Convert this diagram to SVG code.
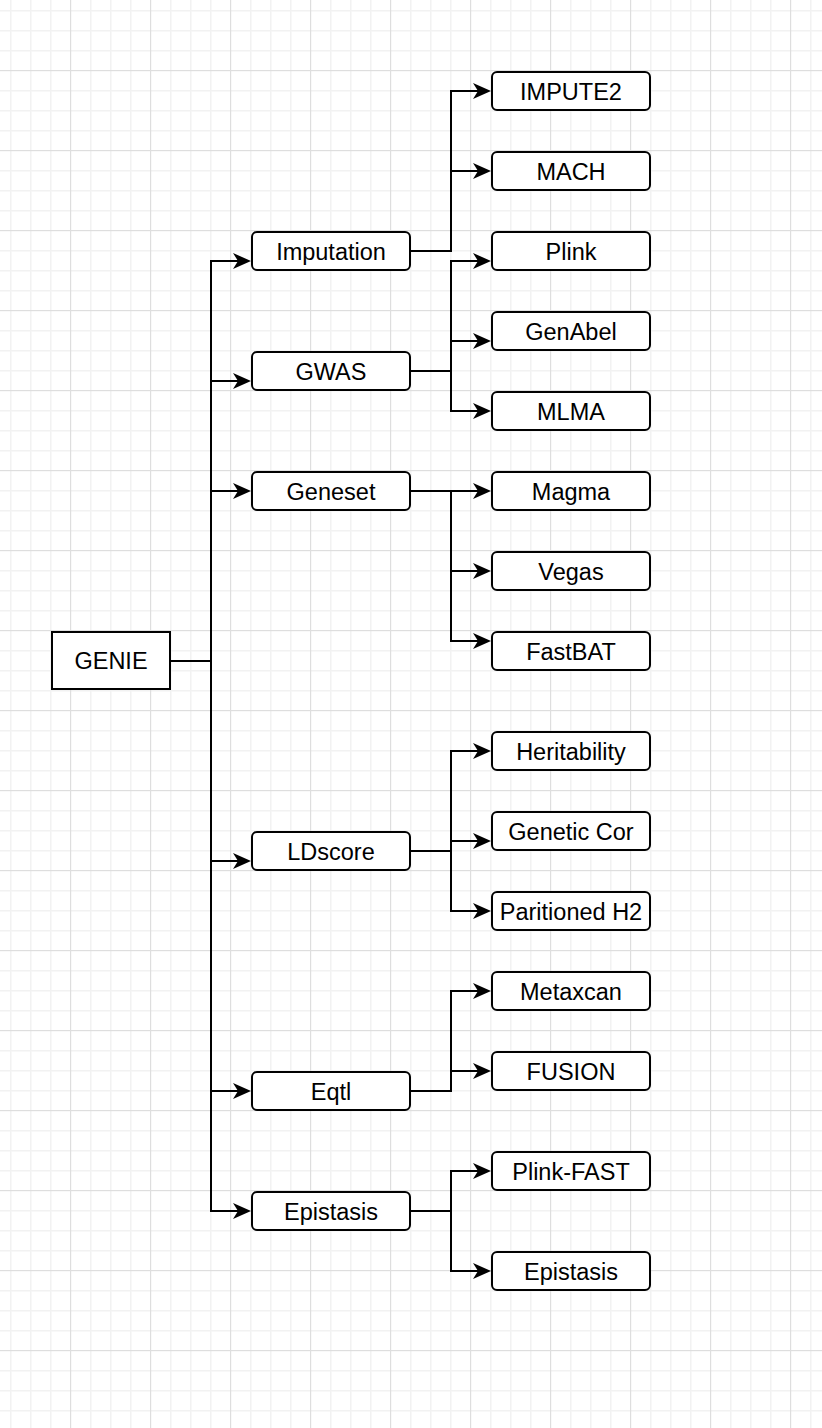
<svg xmlns="http://www.w3.org/2000/svg" width="822" height="1428" viewBox="0 0 822 1428">
<defs>
<pattern id="grid" patternUnits="userSpaceOnUse" x="-10" y="-10" width="80" height="80">
<rect x="20" y="0" width="1.5" height="80" fill="#f2f2f2"/>
<rect x="40" y="0" width="1.5" height="80" fill="#f2f2f2"/>
<rect x="60" y="0" width="1.5" height="80" fill="#f2f2f2"/>
<rect x="0" y="20" width="80" height="1.5" fill="#f2f2f2"/>
<rect x="0" y="40" width="80" height="1.5" fill="#f2f2f2"/>
<rect x="0" y="60" width="80" height="1.5" fill="#f2f2f2"/>
<rect x="0" y="0" width="1.2" height="80" fill="#dedede"/>
<rect x="0" y="0" width="80" height="1.2" fill="#dedede"/>
</pattern>
<marker id="arr" viewBox="0 0 18 17" refX="5" refY="8.5" markerWidth="18" markerHeight="17" markerUnits="userSpaceOnUse" orient="auto">
<path d="M0,0.5 L18,8.5 L0,16.5 L5,8.5 Z" fill="#000"/>
</marker>
<style>
.box{fill:#fff;stroke:#000;stroke-width:2}
.lbl{font-family:"Liberation Sans",Arial,Helvetica,sans-serif;font-size:23.5px;fill:#000;text-anchor:middle}
.edge{fill:none;stroke:#000;stroke-width:2;marker-end:url(#arr)}
</style>
</defs>
<rect x="0" y="0" width="822" height="1428" fill="#fff"/>
<rect x="0" y="0" width="822" height="1428" fill="url(#grid)"/>

<g id="connectors">
<path class="edge" d="M170,661 H211 V261 H238"/>
<path class="edge" d="M170,661 H211 V381 H238"/>
<path class="edge" d="M170,661 H211 V491 H238"/>
<path class="edge" d="M170,661 H211 V861 H238"/>
<path class="edge" d="M170,661 H211 V1091 H238"/>
<path class="edge" d="M170,661 H211 V1211 H238"/>

<path class="edge" d="M410,251 H451 V91 H478"/>
<path class="edge" d="M410,251 H451 V171 H478"/>

<path class="edge" d="M410,371 H451 V261 H478"/>
<path class="edge" d="M410,371 H451 V341 H478"/>
<path class="edge" d="M410,371 H451 V411 H478"/>

<path class="edge" d="M410,491 H451 V491 H478"/>
<path class="edge" d="M410,491 H451 V571 H478"/>
<path class="edge" d="M410,491 H451 V641 H478"/>

<path class="edge" d="M410,851 H451 V751 H478"/>
<path class="edge" d="M410,851 H451 V841 H478"/>
<path class="edge" d="M410,851 H451 V911 H478"/>

<path class="edge" d="M410,1091 H451 V991 H478"/>
<path class="edge" d="M410,1091 H451 V1071 H478"/>

<path class="edge" d="M410,1211 H451 V1171 H478"/>
<path class="edge" d="M410,1211 H451 V1271 H478"/>
</g>

<g id="n-genie"><rect class="box" x="52" y="632" width="118" height="57"/><text class="lbl" x="111" y="669">GENIE</text></g>

<g id="n-imputation"><rect class="box" x="252" y="232" width="158" height="38" rx="5"/><text class="lbl" x="331" y="259.5">Imputation</text></g>
<g id="n-gwas"><rect class="box" x="252" y="352" width="158" height="38" rx="5"/><text class="lbl" x="331" y="379.5">GWAS</text></g>
<g id="n-geneset"><rect class="box" x="252" y="472" width="158" height="38" rx="5"/><text class="lbl" x="331" y="499.5">Geneset</text></g>
<g id="n-ldscore"><rect class="box" x="252" y="832" width="158" height="38" rx="5"/><text class="lbl" x="331" y="859.5">LDscore</text></g>
<g id="n-eqtl"><rect class="box" x="252" y="1072" width="158" height="38" rx="5"/><text class="lbl" x="331" y="1099.5">Eqtl</text></g>
<g id="n-epistasis"><rect class="box" x="252" y="1192" width="158" height="38" rx="5"/><text class="lbl" x="331" y="1219.5">Epistasis</text></g>

<g id="n-impute2"><rect class="box" x="492" y="72" width="158" height="38" rx="5"/><text class="lbl" x="571" y="99.5">IMPUTE2</text></g>
<g id="n-mach"><rect class="box" x="492" y="152" width="158" height="38" rx="5"/><text class="lbl" x="571" y="179.5">MACH</text></g>
<g id="n-plink"><rect class="box" x="492" y="232" width="158" height="38" rx="5"/><text class="lbl" x="571" y="259.5">Plink</text></g>
<g id="n-genabel"><rect class="box" x="492" y="312" width="158" height="38" rx="5"/><text class="lbl" x="571" y="339.5">GenAbel</text></g>
<g id="n-mlma"><rect class="box" x="492" y="392" width="158" height="38" rx="5"/><text class="lbl" x="571" y="419.5">MLMA</text></g>
<g id="n-magma"><rect class="box" x="492" y="472" width="158" height="38" rx="5"/><text class="lbl" x="571" y="499.5">Magma</text></g>
<g id="n-vegas"><rect class="box" x="492" y="552" width="158" height="38" rx="5"/><text class="lbl" x="571" y="579.5">Vegas</text></g>
<g id="n-fastbat"><rect class="box" x="492" y="632" width="158" height="38" rx="5"/><text class="lbl" x="571" y="659.5">FastBAT</text></g>
<g id="n-heritability"><rect class="box" x="492" y="732" width="158" height="38" rx="5"/><text class="lbl" x="571" y="759.5">Heritability</text></g>
<g id="n-geneticcor"><rect class="box" x="492" y="812" width="158" height="38" rx="5"/><text class="lbl" x="571" y="839.5">Genetic Cor</text></g>
<g id="n-paritionedh2"><rect class="box" x="492" y="892" width="158" height="38" rx="5"/><text class="lbl" x="571" y="919.5">Paritioned H2</text></g>
<g id="n-metaxcan"><rect class="box" x="492" y="972" width="158" height="38" rx="5"/><text class="lbl" x="571" y="999.5">Metaxcan</text></g>
<g id="n-fusion"><rect class="box" x="492" y="1052" width="158" height="38" rx="5"/><text class="lbl" x="571" y="1079.5">FUSION</text></g>
<g id="n-plinkfast"><rect class="box" x="492" y="1152" width="158" height="38" rx="5"/><text class="lbl" x="571" y="1179.5">Plink-FAST</text></g>
<g id="n-epistasis2"><rect class="box" x="492" y="1252" width="158" height="38" rx="5"/><text class="lbl" x="571" y="1279.5">Epistasis</text></g>
</svg>
